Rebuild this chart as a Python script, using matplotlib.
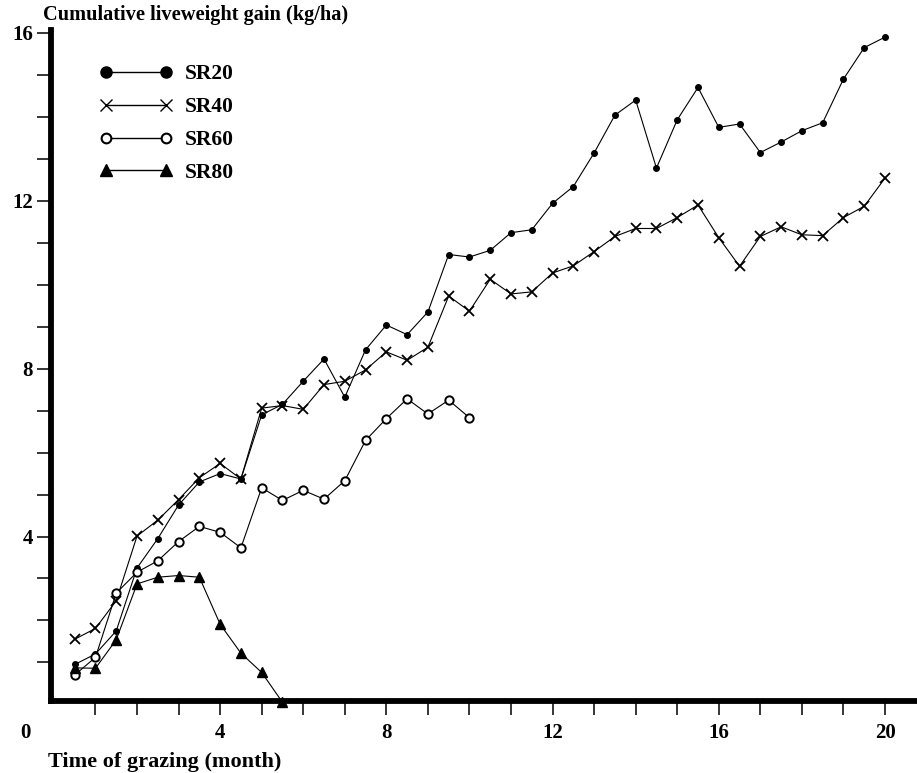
import matplotlib
matplotlib.use("Agg")
import matplotlib.pyplot as plt
from matplotlib.lines import Line2D
import numpy as np

# time of grazing (month), sampled every half month
months_long = [0.5, 1.0, 1.5, 2.0, 2.5, 3.0, 3.5, 4.0, 4.5, 5.0,
               5.5, 6.0, 6.5, 7.0, 7.5, 8.0, 8.5, 9.0, 9.5, 10.0,
               10.5, 11.0, 11.5, 12.0, 12.5, 13.0, 13.5, 14.0, 14.5, 15.0,
               15.5, 16.0, 16.5, 17.0, 17.5, 18.0, 18.5, 19.0, 19.5, 20.0]
months_sr60 = months_long[:20]
months_sr80 = months_long[:11]

sr20 = [0.95, 1.20, 1.75, 3.25, 3.95, 4.75, 5.30, 5.50, 5.37, 6.90,
        7.15, 7.70, 8.23, 7.32, 8.45, 9.04, 8.81, 9.35, 10.72, 10.66,
        10.82, 11.24, 11.31, 11.94, 12.34, 13.14, 14.04, 14.40, 12.78, 13.93,
        14.70, 13.75, 13.83, 13.15, 13.40, 13.67, 13.86, 14.90, 15.65, 15.90]
sr40 = [1.55, 1.81, 2.47, 4.01, 4.39, 4.88, 5.40, 5.74, 5.37, 7.06,
        7.12, 7.03, 7.62, 7.70, 7.97, 8.40, 8.20, 8.51, 9.73, 9.37,
        10.13, 9.78, 9.83, 10.28, 10.45, 10.79, 11.15, 11.34, 11.34, 11.60,
        11.90, 11.12, 10.44, 11.15, 11.38, 11.19, 11.17, 11.60, 11.87, 12.54]
sr60 = [0.70, 1.12, 2.65, 3.15, 3.42, 3.88, 4.24, 4.10, 3.73, 5.16,
        4.86, 5.10, 4.89, 5.33, 6.29, 6.81, 7.28, 6.92, 7.25, 6.83]
sr80 = [0.87, 0.86, 1.54, 2.87, 3.03, 3.07, 3.03, 1.91, 1.22, 0.76, 0.05]

x_ticks = [4, 8, 12, 16, 20]
y_ticks = [4, 8, 12, 16]

plt.rcParams["font.family"] = ["Liberation Serif", "DejaVu Serif"]
plt.rcParams["font.weight"] = "bold"

W, H = 917, 773
fig = plt.figure(figsize=(W / 100, H / 100), dpi=100)
ax = fig.add_axes([51 / W, (H - 701) / H, 1 - 51 / W, (701 - 30) / H])

line_kw = dict(color="black", lw=0.8, clip_on=False)
ax.plot(months_long, sr20, marker="o", ms=4, **line_kw)
ax.plot(months_long, sr40, marker="x", ms=6.5, mew=1.3, **line_kw)
ax.plot(months_sr60, sr60, marker="o", ms=6, mfc="white", mew=1.4, **line_kw)
ax.plot(months_sr80, sr80, marker="^", ms=7, **line_kw)

ax.set_xlim(-0.07, 20.77)
ax.set_ylim(0.08, 16.07)

for side in ("top", "right"):
    ax.spines[side].set_visible(False)
for side in ("left", "bottom"):
    ax.spines[side].set_linewidth(4.2)

ax.set_xticks(x_ticks)
ax.set_xticks(np.arange(1, 21), minor=True)
ax.set_yticks(y_ticks)
ax.set_yticks(np.arange(1, 17), minor=True)
ax.tick_params(which="both", direction="out", length=10, width=1.1)
ax.tick_params(axis="x", which="major", labelsize=15, pad=6)
ax.tick_params(axis="y", which="major", labelsize=15, pad=3)

fig.text(25 / W, 1 - 733 / H, "0", fontsize=15, fontweight="bold",
         ha="center", va="center")
fig.text(43 / W, 1 - 15 / H, "Cumulative liveweight gain (kg/ha)",
         fontsize=14.7, fontweight="bold", ha="left", va="center")
fig.text(48 / W, 1 - 762 / H, "Time of grazing (month)",
         fontsize=16, fontweight="bold", ha="left", va="center")

handles = [
    Line2D([], [], color="black", lw=1, marker="o", ms=8),
    Line2D([], [], color="black", lw=1, marker="x", ms=9, mew=1),
    Line2D([], [], color="black", lw=1, marker="o", ms=7, mfc="white", mew=1.5),
    Line2D([], [], color="black", lw=1, marker="^", ms=8),
]
ax.legend(handles, ["SR20", "SR40", "SR60", "SR80"], loc="upper left",
          bbox_to_anchor=(100 / W, 1 - 64 / H), bbox_transform=fig.transFigure,
          frameon=False, numpoints=2, handlelength=3.35, handletextpad=0.6,
          labelspacing=0.6, borderpad=0, borderaxespad=0,
          prop={"size": 15.5, "weight": "bold"})

fig.savefig("out.png", dpi=100)
